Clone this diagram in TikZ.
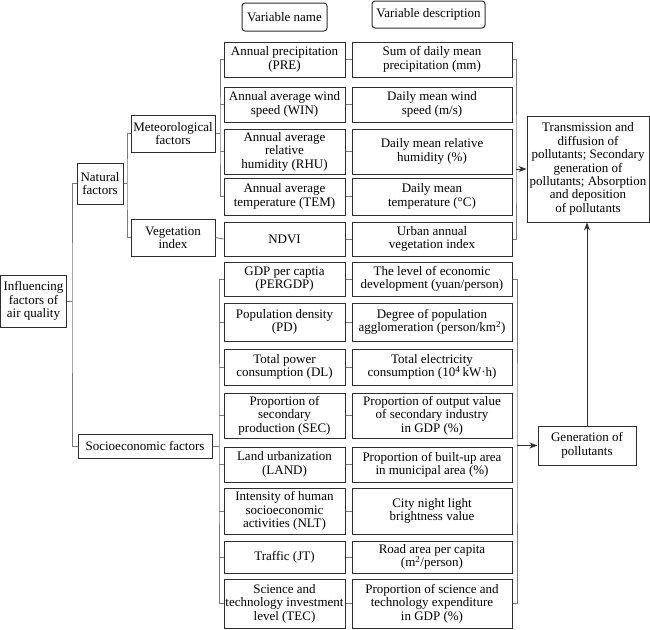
\documentclass[tikz,border=0pt]{standalone}
\usepackage{fontspec}
\setmainfont{Liberation Serif}
\newfontfamily\tnr{Liberation Serif}
\usetikzlibrary{arrows.meta}
\definecolor{boxc}{HTML}{2E2E2E}
\definecolor{linec}{HTML}{7A7A7A}
\begin{document}
\begin{tikzpicture}[x=1pt,y=-1pt,
  box/.style={draw=boxc, line width=1pt, align=center, inner sep=0pt,
    font=\tnr\fontsize{13}{13.4}\selectfont},
  hdr/.style={box, rounded corners=3pt},
  conn/.style={draw=linec, line width=0.9pt},
  arr/.style={conn, -{Stealth[length=8pt,width=6pt]}, draw=boxc}]
\useasboundingbox (0,0) rectangle (650,629);

% headers
\node[hdr, minimum width=85pt, minimum height=28pt] (hname) at (284.5,17) {Variable name};
\node[hdr, minimum width=113pt, minimum height=27pt] (hdesc) at (428.5,14.5) {Variable description};

% left hierarchy
\node[box, minimum width=66pt, minimum height=52pt] (infl) at (33.5,301) {Influencing\\factors of\\air quality};
\node[box, minimum width=46pt, minimum height=41pt] (nat) at (100,183.5) {Natural\\factors};
\node[box, minimum width=84pt, minimum height=37pt] (met) at (173,133.5) {Meteorological\\factors};
\node[box, minimum width=84pt, minimum height=37pt] (veg) at (173,237.5) {Vegetation\\index};
\node[box, minimum width=134pt, minimum height=24pt] (soc) at (145,446) {Socioeconomic factors};

% name column
\node[box, minimum width=121pt, minimum height=35pt] (pre) at (284.5,59.5) {Annual precipitation\\(PRE)};
\node[box, minimum width=121pt, minimum height=35pt] (win) at (284.5,104.5) {Annual average wind\\speed (WIN)};
\node[box, minimum width=121pt, minimum height=45pt] (rhu) at (284.5,151.5) {Annual average\\relative\\humidity (RHU)};
\node[box, minimum width=121pt, minimum height=37pt] (tem) at (284.5,196.5) {Annual average\\temperature (TEM)};
\node[box, minimum width=121pt, minimum height=34pt] (ndvi) at (284.5,239) {NDVI};
\node[box, minimum width=121pt, minimum height=34pt] (gdp) at (284.5,279) {GDP per captia\\(PERGDP)};
\node[box, minimum width=121pt, minimum height=38pt] (pd) at (284.5,322) {Population density\\(PD)};
\node[box, minimum width=121pt, minimum height=36pt] (dl) at (284.5,367) {Total power\\consumption (DL)};
\node[box, minimum width=121pt, minimum height=45pt] (sec) at (284.5,415.5) {Proportion of\\secondary\\production (SEC)};
\node[box, minimum width=121pt, minimum height=35pt] (land) at (284.5,464.5) {Land urbanization\\(LAND)};
\node[box, minimum width=121pt, minimum height=46pt] (nlt) at (284.5,511) {Intensity of human\\socioeconomic\\activities (NLT)};
\node[box, minimum width=121pt, minimum height=32pt] (jt) at (284.5,557) {Traffic (JT)};
\node[box, minimum width=121pt, minimum height=49pt] (tec) at (284.5,603.5) {Science and\\technology investment\\level (TEC)};

% description column
\node[box, minimum width=160pt, minimum height=35pt] (pred) at (432,59.5) {Sum of daily mean\\precipitation (mm)};
\node[box, minimum width=160pt, minimum height=35pt] (wind) at (432,104.5) {Daily mean wind\\speed (m/s)};
\node[box, minimum width=160pt, minimum height=45pt] (rhud) at (432,151.5) {Daily mean relative\\humidity (\%)};
\node[box, minimum width=160pt, minimum height=37pt] (temd) at (432,196.5) {Daily mean\\temperature (°C)};
\node[box, minimum width=160pt, minimum height=34pt] (ndvid) at (432,239) {Urban annual\\vegetation index};
\node[box, minimum width=160pt, minimum height=34pt] (gdpd) at (432,279) {The level of economic\\development (yuan/person)};
\node[box, minimum width=160pt, minimum height=38pt] (pdd) at (432,322) {Degree of population\\agglomeration (person/km\textsuperscript{2})};
\node[box, minimum width=160pt, minimum height=36pt] (dld) at (432,367) {Total electricity\\consumption (10\textsuperscript{4}\,kW·h)};
\node[box, minimum width=160pt, minimum height=45pt] (secd) at (432,415.5) {Proportion of output value\\of secondary industry\\in GDP (\%)};
\node[box, minimum width=160pt, minimum height=35pt] (landd) at (432,464.5) {Proportion of built-up area\\in municipal area (\%)};
\node[box, minimum width=160pt, minimum height=46pt] (nltd) at (432,511) {City night light\\brightness value};
\node[box, minimum width=160pt, minimum height=32pt] (jtd) at (432,557) {Road area per capita\\(m\textsuperscript{2}/person)};
\node[box, minimum width=160pt, minimum height=49pt] (tecd) at (432,603.5) {Proportion of science and\\technology expenditure\\in GDP (\%)};

% right boxes
\node[box, minimum width=122pt, minimum height=106pt] (trans) at (588,169) {Transmission and\\diffusion of\\pollutants; Secondary\\generation of\\pollutants; Absorption\\and deposition\\of pollutants};
\node[box, minimum width=98pt, minimum height=39pt] (gen) at (587,445.5) {Generation of\\pollutants};

% bus coordinates
\coordinate (b0) at (72,301);
\coordinate (b1) at (127,183.5);
\coordinate (b2) at (220,133.5);
\coordinate (b3) at (219,446);
\coordinate (b4) at (516,169);
\coordinate (b5) at (517,445.5);

% left connectors
\draw[conn] (infl.east) -- (b0);
\draw[conn] (nat.west) -| (b0) |- (soc.west);
\draw[conn] (nat.east) -- (b1);
\draw[conn] (met.west) -| (b1) |- (veg.west);
\draw[conn] (met.east) -- (b2);
\draw[conn] (pre.west) -| (b2) |- (tem.west);
\foreach \n in {win,rhu} \draw[conn] (\n.west) -- (\n.west -| b2);
\draw[conn] (veg.east) -- (ndvi.west);
\draw[conn] (soc.east) -- (b3);
\draw[conn] (gdp.west) -| (b3) |- (tec.west);
\foreach \n in {pd,dl,sec,land,nlt,jt} \draw[conn] (\n.west) -- (\n.west -| b3);

% name-description ticks
\foreach \n in {pre,win,rhu,tem,ndvi,gdp,pd,dl,sec,land,nlt,jt,tec}
  \draw[conn] (\n.east) -- (\n d.west);

% right connectors
\draw[conn] (pred.east) -| (b4) |- (ndvid.east);
\draw[arr] (b4) -- (trans.west);
\draw[conn] (gdpd.east) -| (b5) |- (tecd.east);
\draw[arr] (b5) -- (gen.west);
\draw[arr] (gen.north) -- (gen.north |- trans.south);
\end{tikzpicture}
\end{document}
